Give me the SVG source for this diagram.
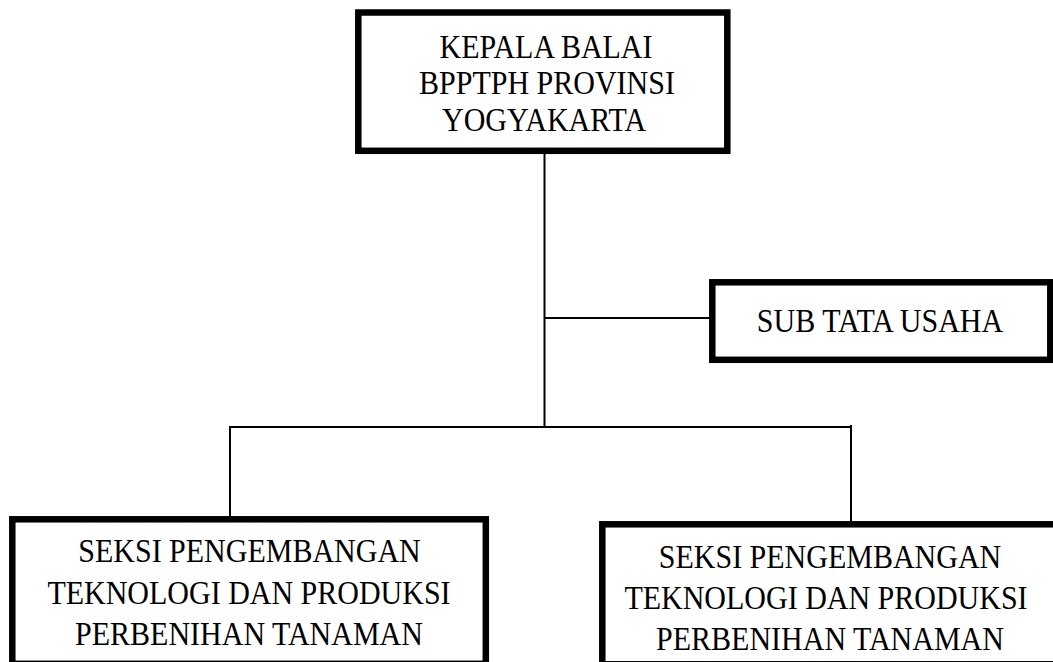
<svg xmlns="http://www.w3.org/2000/svg" width="1053" height="662" viewBox="0 0 1053 662">
<style>
.box{fill:#fff;stroke:#000;stroke-width:6.5}
.conn{fill:none;stroke:#000;stroke-width:2}
.t{font-family:"Liberation Serif","Times New Roman",serif;font-size:30px;fill:#000;text-anchor:middle}
</style>
<rect width="1053" height="662" fill="#fff"/>
<g id="connectors">
<path class="conn" d="M544.5 153V427"/>
<path class="conn" d="M544.5 318H710"/>
<path class="conn" d="M230 427H851"/>
<path class="conn" d="M230 426V517"/>
<path class="conn" d="M851 425V522"/>
</g>
<g id="kepala">
<rect class="box" x="358.3" y="12.5" width="369" height="138.3"/>
<text class="t" transform="translate(546,57.7) scale(1,1.13)">KEPALA BALAI</text>
<text class="t" transform="translate(547,94) scale(1,1.13)">BPPTPH PROVINSI</text>
<text class="t" transform="translate(544,130.7) scale(1,1.13)">YOGYAKARTA</text>
</g>
<g id="subtu">
<rect class="box" x="712.3" y="282.3" width="338" height="77.5"/>
<text class="t" transform="translate(880,331.7) scale(1,1.13)">SUB TATA USAHA</text>
</g>
<g id="seksi-left">
<rect class="box" x="12.3" y="519.3" width="473.5" height="144.5"/>
<text class="t" transform="translate(249.5,562) scale(1,1.13)">SEKSI PENGEMBANGAN</text>
<text class="t" transform="translate(249,603.5) scale(1,1.13)">TEKNOLOGI DAN PRODUKSI</text>
<text class="t" transform="translate(249,644.5) scale(1,1.13)">PERBENIHAN TANAMAN</text>
</g>
<g id="seksi-right">
<rect class="box" x="602.3" y="524.3" width="460" height="140"/>
<text class="t" transform="translate(830,567.5) scale(1,1.13)">SEKSI PENGEMBANGAN</text>
<text class="t" transform="translate(826,609) scale(1,1.13)">TEKNOLOGI DAN PRODUKSI</text>
<text class="t" transform="translate(830,650) scale(1,1.13)">PERBENIHAN TANAMAN</text>
</g>
</svg>
